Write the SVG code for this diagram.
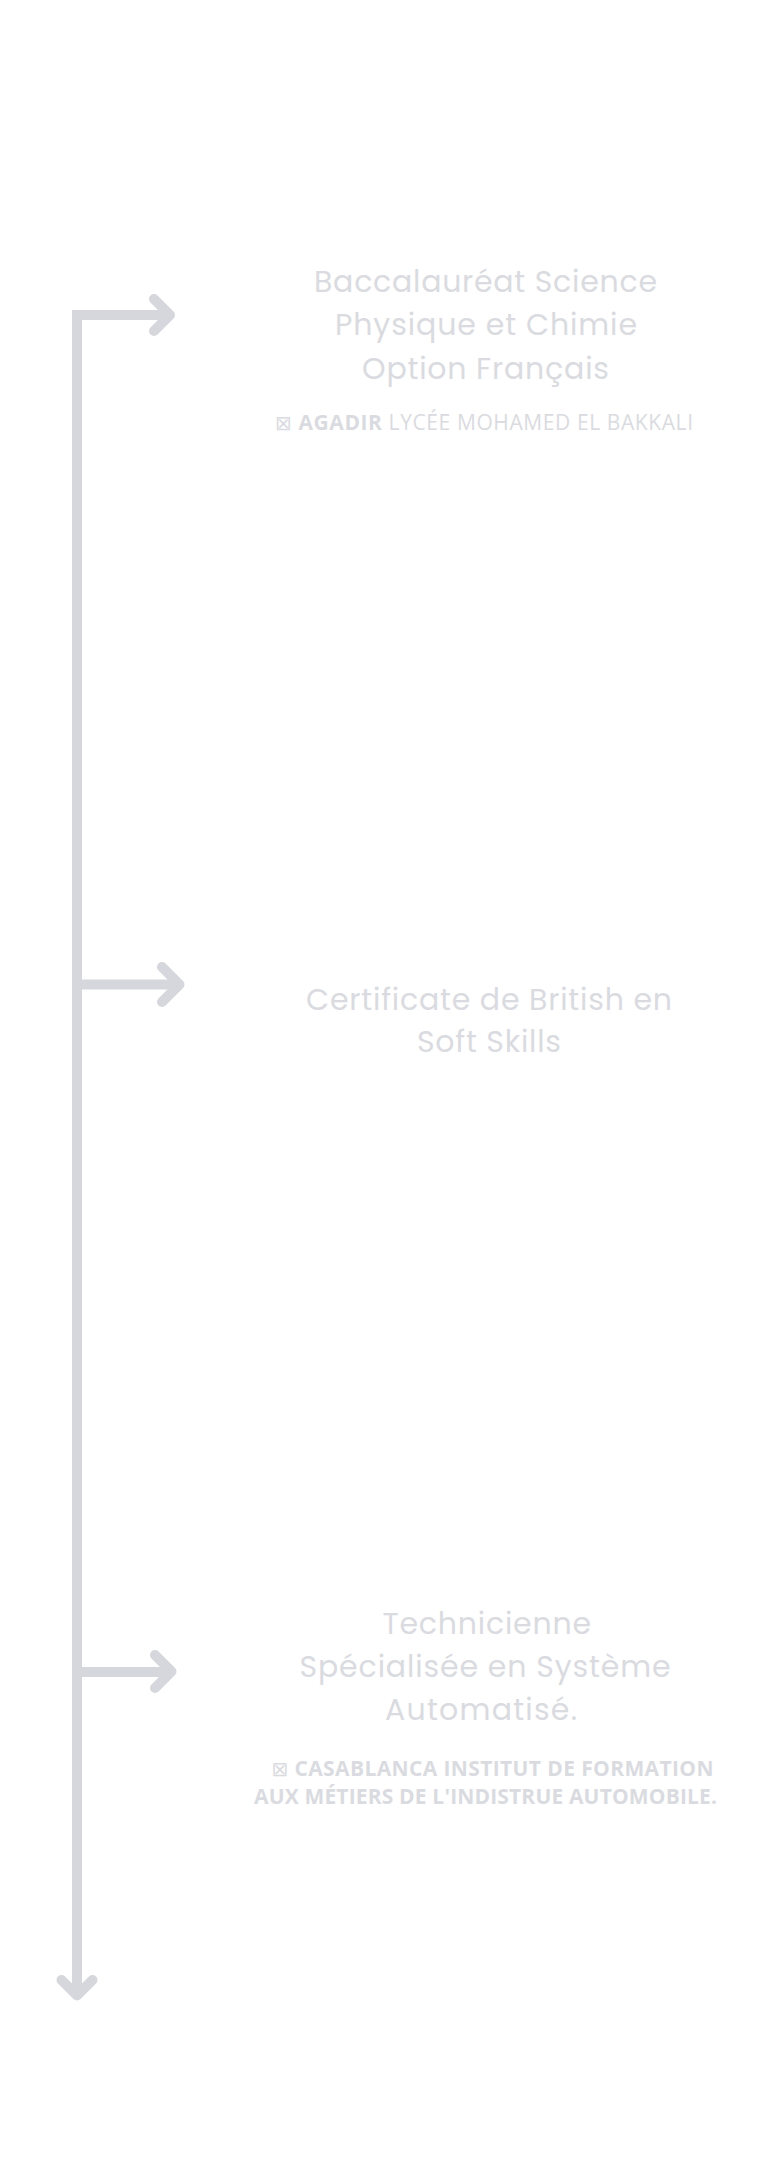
<svg xmlns="http://www.w3.org/2000/svg" width="766" height="2165" viewBox="0 0 766 2165">
<style>
.ln{fill:none;stroke:#d6d7dc;stroke-width:10;stroke-linejoin:miter}
.hd{fill:none;stroke:#d6d7dc;stroke-width:10;stroke-linecap:round;stroke-linejoin:round}
.t{font-family:Poppins,Inter,"Open Sans",sans-serif;font-size:30px;fill:#dadbe0}
.s{font-family:"Open Sans","Noto Sans",sans-serif;font-size:21px;fill:#dadbe0}
.b{font-weight:700}
.ic{font-family:"DejaVu Sans",sans-serif;font-weight:400;font-size:20px}
</style>
<rect width="766" height="2165" fill="#ffffff"/>
<g id="connectors">
<path class="ln" d="M77,1995 V315 H171"/>
<path class="hd" d="M154,299 L170,315 L154,331"/>
<path class="ln" d="M77,984.5 H179"/>
<path class="hd" d="M162,967 L179.5,984.5 L162,1002"/>
<path class="ln" d="M77,1672 H171"/>
<path class="hd" d="M155,1655 L171.5,1671.5 L155,1688"/>
<path class="hd" d="M61.5,1980 L77,1995.5 L92.5,1980"/>
</g>
<g id="node-bac">
<text class="t" x="314" y="292" textLength="343">Baccalauréat Science</text>
<text class="t" x="335" y="335" textLength="302">Physique et Chimie</text>
<text class="t" x="362" y="378.5" textLength="247">Option Français</text>
<text class="s" x="275" y="430" textLength="418"><tspan class="ic">⊠</tspan> <tspan class="b">AGADIR</tspan> LYCÉE MOHAMED EL BAKKALI</text>
</g>
<g id="node-certificate">
<text class="t" x="306" y="1009.5" textLength="366">Certificate de British en</text>
<text class="t" x="417" y="1051.5" textLength="144">Soft Skills</text>
</g>
<g id="node-technicienne">
<text class="t" x="382.5" y="1633.5" textLength="208.5">Technicienne</text>
<text class="t" x="299.5" y="1676.5" textLength="371">Spécialisée en Système</text>
<text class="t" x="385" y="1719.5" textLength="192">Automatisé.</text>
<text class="s b" x="271.5" y="1776" textLength="442"><tspan class="ic">⊠</tspan> CASABLANCA INSTITUT DE FORMATION</text>
<text class="s b" x="254" y="1804" textLength="463">AUX MÉTIERS DE L'INDISTRUE AUTOMOBILE.</text>
</g>
</svg>
